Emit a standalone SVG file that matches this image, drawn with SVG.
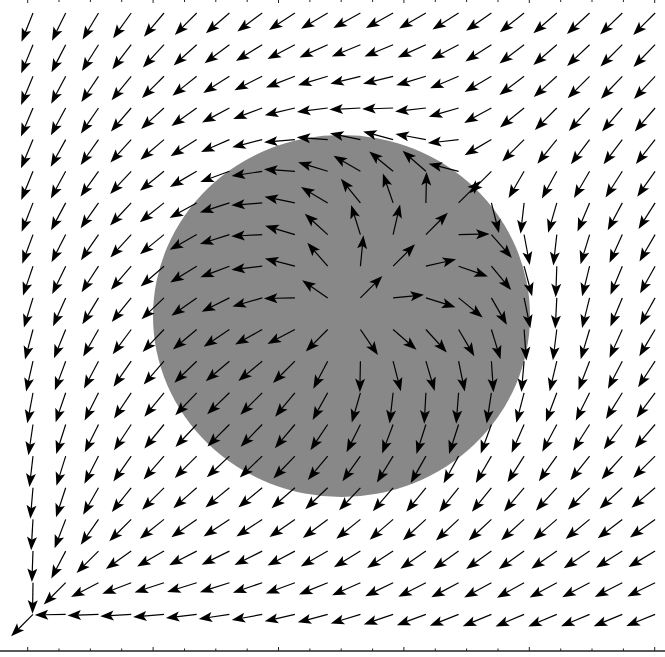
<svg xmlns="http://www.w3.org/2000/svg" width="665" height="657" viewBox="0 0 665 657">
<style>
.s{stroke:#000;stroke-width:1.2;fill:none}
.h{fill:#000}
.ax{stroke:#222;stroke-width:1.4;fill:none}
.tk{stroke:#222;stroke-width:1;fill:none}
</style>
<defs>
<g id="a"><line class="s" x1="0" y1="0" x2="21" y2="0"/><path class="h" d="M31 0L17.5-5L20.5 0L17.5 5Z"/></g>
</defs>
<rect width="665" height="657" fill="#fff"/>
<g id="disk"><ellipse cx="341.5" cy="316" rx="188.5" ry="181" fill="#888"/></g>
<g id="axis">
<line class="ax" x1="0" y1="651" x2="665" y2="651"/>
<path class="tk" d="M27.7 647V651M59 648.5V651M90.4 648.5V651M121.7 648.5V651M153.1 647V651M184.5 648.5V651M215.8 648.5V651M247.2 648.5V651M278.5 647V651M309.9 648.5V651M341.2 648.5V651M372.6 648.5V651M403.9 647V651M435.3 648.5V651M466.6 648.5V651M498 648.5V651M529.3 647V651M560.7 648.5V651M592 648.5V651M623.4 648.5V651M654.7 647V651"/>
<path class="tk" d="M27.7 0V3M59 0V2M90.4 0V2M121.7 0V2M153.1 0V3M184.5 0V2M215.8 0V2M247.2 0V2M278.5 0V3M309.9 0V2M341.2 0V2M372.6 0V2M403.9 0V3M435.3 0V2M466.6 0V2M498 0V2M529.3 0V3M560.7 0V2M592 0V2M623.4 0V2M654.7 0V3"/>
</g>
<g id="field">
<g transform="translate(0 13)">
<use href="#a" transform="translate(33) rotate(111.8)"/><use href="#a" transform="translate(65.7) rotate(116.3)"/><use href="#a" transform="translate(98.5) rotate(120.9)"/><use href="#a" transform="translate(131.2) rotate(125.7)"/><use href="#a" transform="translate(164) rotate(130.3)"/><use href="#a" transform="translate(196.7) rotate(134.9)"/><use href="#a" transform="translate(229.4) rotate(139.3)"/><use href="#a" transform="translate(262.2) rotate(143.3)"/><use href="#a" transform="translate(294.9) rotate(146.8)"/><use href="#a" transform="translate(327.7) rotate(149.4)"/><use href="#a" transform="translate(360.4) rotate(150.8)"/><use href="#a" transform="translate(393.1) rotate(151)"/><use href="#a" transform="translate(425.9) rotate(149.8)"/><use href="#a" transform="translate(458.6) rotate(147.6)"/><use href="#a" transform="translate(491.4) rotate(144.8)"/><use href="#a" transform="translate(524.1) rotate(141.7)"/><use href="#a" transform="translate(556.8) rotate(139.1)"/><use href="#a" transform="translate(589.6) rotate(137.1)"/><use href="#a" transform="translate(622.3) rotate(135.8)"/><use href="#a" transform="translate(655.1) rotate(135)"/>
</g>
<g transform="translate(0 44.7)">
<use href="#a" transform="translate(33) rotate(112.4)"/><use href="#a" transform="translate(65.7) rotate(117.3)"/><use href="#a" transform="translate(98.5) rotate(122.3)"/><use href="#a" transform="translate(131.2) rotate(127.5)"/><use href="#a" transform="translate(164) rotate(132.8)"/><use href="#a" transform="translate(196.7) rotate(138.1)"/><use href="#a" transform="translate(229.4) rotate(143.3)"/><use href="#a" transform="translate(262.2) rotate(148.1)"/><use href="#a" transform="translate(294.9) rotate(152.4)"/><use href="#a" transform="translate(327.7) rotate(155.6)"/><use href="#a" transform="translate(360.4) rotate(157.4)"/><use href="#a" transform="translate(393.1) rotate(157.5)"/><use href="#a" transform="translate(425.9) rotate(155.6)"/><use href="#a" transform="translate(458.6) rotate(151.9)"/><use href="#a" transform="translate(491.4) rotate(147.3)"/><use href="#a" transform="translate(524.1) rotate(142.7)"/><use href="#a" transform="translate(556.8) rotate(139.2)"/><use href="#a" transform="translate(589.6) rotate(136.5)"/><use href="#a" transform="translate(622.3) rotate(135)"/><use href="#a" transform="translate(655.1) rotate(134.2)"/>
</g>
<g transform="translate(0 76.3)">
<use href="#a" transform="translate(33) rotate(112.7)"/><use href="#a" transform="translate(65.7) rotate(118)"/><use href="#a" transform="translate(98.5) rotate(123.6)"/><use href="#a" transform="translate(131.2) rotate(129.3)"/><use href="#a" transform="translate(164) rotate(135.3)"/><use href="#a" transform="translate(196.7) rotate(141.4)"/><use href="#a" transform="translate(229.4) rotate(147.5)"/><use href="#a" transform="translate(262.2) rotate(153.5)"/><use href="#a" transform="translate(294.9) rotate(158.9)"/><use href="#a" transform="translate(327.7) rotate(163.3)"/><use href="#a" transform="translate(360.4) rotate(166)"/><use href="#a" transform="translate(393.1) rotate(166.1)"/><use href="#a" transform="translate(425.9) rotate(163)"/><use href="#a" transform="translate(458.6) rotate(157.1)"/><use href="#a" transform="translate(491.4) rotate(149.7)"/><use href="#a" transform="translate(524.1) rotate(142.9)"/><use href="#a" transform="translate(556.8) rotate(138)"/><use href="#a" transform="translate(589.6) rotate(135)"/><use href="#a" transform="translate(622.3) rotate(133.5)"/><use href="#a" transform="translate(655.1) rotate(132.9)"/>
</g>
<g transform="translate(0 108)">
<use href="#a" transform="translate(33) rotate(112.9)"/><use href="#a" transform="translate(65.7) rotate(118.6)"/><use href="#a" transform="translate(98.5) rotate(124.6)"/><use href="#a" transform="translate(131.2) rotate(130.9)"/><use href="#a" transform="translate(164) rotate(137.6)"/><use href="#a" transform="translate(196.7) rotate(144.6)"/><use href="#a" transform="translate(229.4) rotate(152)"/><use href="#a" transform="translate(262.2) rotate(159.4)"/><use href="#a" transform="translate(294.9) rotate(166.6)"/><use href="#a" transform="translate(327.7) rotate(172.8)"/><use href="#a" transform="translate(360.4) rotate(177.1)"/><use href="#a" transform="translate(393.1) rotate(178)"/><use href="#a" transform="translate(425.9) rotate(173.6)"/><use href="#a" transform="translate(458.6) rotate(163.8)"/><use href="#a" transform="translate(491.4) rotate(151.3)"/><use href="#a" transform="translate(524.1) rotate(141.2)"/><use href="#a" transform="translate(556.8) rotate(135)"/><use href="#a" transform="translate(589.6) rotate(132)"/><use href="#a" transform="translate(622.3) rotate(130.8)"/><use href="#a" transform="translate(655.1) rotate(130.9)"/>
</g>
<g transform="translate(0 139.6)">
<use href="#a" transform="translate(33) rotate(112.8)"/><use href="#a" transform="translate(65.7) rotate(118.9)"/><use href="#a" transform="translate(98.5) rotate(125.3)"/><use href="#a" transform="translate(131.2) rotate(132.2)"/><use href="#a" transform="translate(164) rotate(139.6)"/><use href="#a" transform="translate(196.7) rotate(147.6)"/><use href="#a" transform="translate(229.4) rotate(156.2)"/><use href="#a" transform="translate(262.2) rotate(165.5)"/><use href="#a" transform="translate(294.9) rotate(175)"/><use href="#a" transform="translate(327.7) rotate(-175.8)"/><use href="#a" transform="translate(360.4) rotate(-168.4)"/><use href="#a" transform="translate(393.1) rotate(-165)"/><use href="#a" transform="translate(425.9) rotate(-169.5)"/><use href="#a" transform="translate(458.6) rotate(173.5)"/><use href="#a" transform="translate(491.4) rotate(149.9)"/><use href="#a" transform="translate(524.1) rotate(135)"/><use href="#a" transform="translate(556.8) rotate(128.8)"/><use href="#a" transform="translate(589.6) rotate(127.1)"/><use href="#a" transform="translate(622.3) rotate(127.3)"/><use href="#a" transform="translate(655.1) rotate(128.3)"/>
</g>
<g transform="translate(0 171.3)">
<use href="#a" transform="translate(33) rotate(112.3)"/><use href="#a" transform="translate(65.7) rotate(118.7)"/><use href="#a" transform="translate(98.5) rotate(125.5)"/><use href="#a" transform="translate(131.2) rotate(132.9)"/><use href="#a" transform="translate(164) rotate(140.9)"/><use href="#a" transform="translate(196.7) rotate(149.8)"/><use href="#a" transform="translate(229.4) rotate(159.9)"/><use href="#a" transform="translate(262.2) rotate(171.2)"/><use href="#a" transform="translate(294.9) rotate(-176.2)"/><use href="#a" transform="translate(327.7) rotate(-162.9)"/><use href="#a" transform="translate(360.4) rotate(-150.1)"/><use href="#a" transform="translate(393.1) rotate(-140.4)"/><use href="#a" transform="translate(425.9) rotate(-138.7)"/><use href="#a" transform="translate(458.6) rotate(-165.8)"/><use href="#a" transform="translate(491.4) rotate(135)"/><use href="#a" transform="translate(524.1) rotate(120.1)"/><use href="#a" transform="translate(556.8) rotate(118.7)"/><use href="#a" transform="translate(589.6) rotate(120.3)"/><use href="#a" transform="translate(622.3) rotate(122.7)"/><use href="#a" transform="translate(655.1) rotate(125.2)"/>
</g>
<g transform="translate(0 202.9)">
<use href="#a" transform="translate(33) rotate(111.5)"/><use href="#a" transform="translate(65.7) rotate(118.2)"/><use href="#a" transform="translate(98.5) rotate(125.3)"/><use href="#a" transform="translate(131.2) rotate(133)"/><use href="#a" transform="translate(164) rotate(141.4)"/><use href="#a" transform="translate(196.7) rotate(151)"/><use href="#a" transform="translate(229.4) rotate(162.1)"/><use href="#a" transform="translate(262.2) rotate(175.5)"/><use href="#a" transform="translate(294.9) rotate(-168.4)"/><use href="#a" transform="translate(327.7) rotate(-149.4)"/><use href="#a" transform="translate(360.4) rotate(-129.1)"/><use href="#a" transform="translate(393.1) rotate(-109.2)"/><use href="#a" transform="translate(425.9) rotate(-88.8)"/><use href="#a" transform="translate(458.6) rotate(-45)"/><use href="#a" transform="translate(491.4) rotate(75.8)"/><use href="#a" transform="translate(524.1) rotate(96.5)"/><use href="#a" transform="translate(556.8) rotate(106.2)"/><use href="#a" transform="translate(589.6) rotate(112.9)"/><use href="#a" transform="translate(622.3) rotate(118.1)"/><use href="#a" transform="translate(655.1) rotate(122.4)"/>
</g>
<g transform="translate(0 234.6)">
<use href="#a" transform="translate(33) rotate(110.3)"/><use href="#a" transform="translate(65.7) rotate(117.2)"/><use href="#a" transform="translate(98.5) rotate(124.5)"/><use href="#a" transform="translate(131.2) rotate(132.3)"/><use href="#a" transform="translate(164) rotate(140.8)"/><use href="#a" transform="translate(196.7) rotate(150.6)"/><use href="#a" transform="translate(229.4) rotate(162.2)"/><use href="#a" transform="translate(262.2) rotate(176.9)"/><use href="#a" transform="translate(294.9) rotate(-163.5)"/><use href="#a" transform="translate(327.7) rotate(-137.6)"/><use href="#a" transform="translate(360.4) rotate(-107.4)"/><use href="#a" transform="translate(393.1) rotate(-77)"/><use href="#a" transform="translate(425.9) rotate(-45)"/><use href="#a" transform="translate(458.6) rotate(-1.2)"/><use href="#a" transform="translate(491.4) rotate(48.7)"/><use href="#a" transform="translate(524.1) rotate(79.5)"/><use href="#a" transform="translate(556.8) rotate(96.4)"/><use href="#a" transform="translate(589.6) rotate(107)"/><use href="#a" transform="translate(622.3) rotate(114.4)"/><use href="#a" transform="translate(655.1) rotate(120.2)"/>
</g>
<g transform="translate(0 266.2)">
<use href="#a" transform="translate(33) rotate(108.8)"/><use href="#a" transform="translate(65.7) rotate(115.8)"/><use href="#a" transform="translate(98.5) rotate(123.1)"/><use href="#a" transform="translate(131.2) rotate(130.8)"/><use href="#a" transform="translate(164) rotate(139.1)"/><use href="#a" transform="translate(196.7) rotate(148.4)"/><use href="#a" transform="translate(229.4) rotate(159.3)"/><use href="#a" transform="translate(262.2) rotate(173.5)"/><use href="#a" transform="translate(294.9) rotate(-165.5)"/><use href="#a" transform="translate(327.7) rotate(-131)"/><use href="#a" transform="translate(360.4) rotate(-84.4)"/><use href="#a" transform="translate(393.1) rotate(-45)"/><use href="#a" transform="translate(425.9) rotate(-13)"/><use href="#a" transform="translate(458.6) rotate(19.2)"/><use href="#a" transform="translate(491.4) rotate(50.4)"/><use href="#a" transform="translate(524.1) rotate(75)"/><use href="#a" transform="translate(556.8) rotate(92)"/><use href="#a" transform="translate(589.6) rotate(103.9)"/><use href="#a" transform="translate(622.3) rotate(112.5)"/><use href="#a" transform="translate(655.1) rotate(119)"/>
</g>
<g transform="translate(0 297.9)">
<use href="#a" transform="translate(33) rotate(107)"/><use href="#a" transform="translate(65.7) rotate(114.1)"/><use href="#a" transform="translate(98.5) rotate(121.4)"/><use href="#a" transform="translate(131.2) rotate(128.9)"/><use href="#a" transform="translate(164) rotate(136.5)"/><use href="#a" transform="translate(196.7) rotate(144.6)"/><use href="#a" transform="translate(229.4) rotate(153.4)"/><use href="#a" transform="translate(262.2) rotate(163.9)"/><use href="#a" transform="translate(294.9) rotate(179)"/><use href="#a" transform="translate(327.7) rotate(-145.5)"/><use href="#a" transform="translate(360.4) rotate(-45)"/><use href="#a" transform="translate(393.1) rotate(-5.6)"/><use href="#a" transform="translate(425.9) rotate(17.4)"/><use href="#a" transform="translate(458.6) rotate(39.1)"/><use href="#a" transform="translate(491.4) rotate(60.1)"/><use href="#a" transform="translate(524.1) rotate(78.4)"/><use href="#a" transform="translate(556.8) rotate(92.9)"/><use href="#a" transform="translate(589.6) rotate(104)"/><use href="#a" transform="translate(622.3) rotate(112.6)"/><use href="#a" transform="translate(655.1) rotate(119.2)"/>
</g>
<g transform="translate(0 329.5)">
<use href="#a" transform="translate(33) rotate(104.9)"/><use href="#a" transform="translate(65.7) rotate(112.2)"/><use href="#a" transform="translate(98.5) rotate(119.6)"/><use href="#a" transform="translate(131.2) rotate(126.7)"/><use href="#a" transform="translate(164) rotate(133.6)"/><use href="#a" transform="translate(196.7) rotate(140.1)"/><use href="#a" transform="translate(229.4) rotate(146.1)"/><use href="#a" transform="translate(262.2) rotate(150.9)"/><use href="#a" transform="translate(294.9) rotate(152.3)"/><use href="#a" transform="translate(327.7) rotate(135)"/><use href="#a" transform="translate(360.4) rotate(55.5)"/><use href="#a" transform="translate(393.1) rotate(41)"/><use href="#a" transform="translate(425.9) rotate(47.6)"/><use href="#a" transform="translate(458.6) rotate(59.4)"/><use href="#a" transform="translate(491.4) rotate(72.9)"/><use href="#a" transform="translate(524.1) rotate(85.8)"/><use href="#a" transform="translate(556.8) rotate(97.2)"/><use href="#a" transform="translate(589.6) rotate(106.7)"/><use href="#a" transform="translate(622.3) rotate(114.4)"/><use href="#a" transform="translate(655.1) rotate(120.6)"/>
</g>
<g transform="translate(0 361.2)">
<use href="#a" transform="translate(33) rotate(102.8)"/><use href="#a" transform="translate(65.7) rotate(110.4)"/><use href="#a" transform="translate(98.5) rotate(117.9)"/><use href="#a" transform="translate(131.2) rotate(124.8)"/><use href="#a" transform="translate(164) rotate(131)"/><use href="#a" transform="translate(196.7) rotate(136.1)"/><use href="#a" transform="translate(229.4) rotate(139.7)"/><use href="#a" transform="translate(262.2) rotate(140.3)"/><use href="#a" transform="translate(294.9) rotate(135)"/><use href="#a" transform="translate(327.7) rotate(117.7)"/><use href="#a" transform="translate(360.4) rotate(91)"/><use href="#a" transform="translate(393.1) rotate(75.5)"/><use href="#a" transform="translate(425.9) rotate(73.5)"/><use href="#a" transform="translate(458.6) rotate(78.4)"/><use href="#a" transform="translate(491.4) rotate(86.2)"/><use href="#a" transform="translate(524.1) rotate(95)"/><use href="#a" transform="translate(556.8) rotate(103.4)"/><use href="#a" transform="translate(589.6) rotate(111.1)"/><use href="#a" transform="translate(622.3) rotate(117.6)"/><use href="#a" transform="translate(655.1) rotate(123.2)"/>
</g>
<g transform="translate(0 392.8)">
<use href="#a" transform="translate(33) rotate(100.6)"/><use href="#a" transform="translate(65.7) rotate(108.9)"/><use href="#a" transform="translate(98.5) rotate(116.6)"/><use href="#a" transform="translate(131.2) rotate(123.6)"/><use href="#a" transform="translate(164) rotate(129.4)"/><use href="#a" transform="translate(196.7) rotate(133.7)"/><use href="#a" transform="translate(229.4) rotate(135.9)"/><use href="#a" transform="translate(262.2) rotate(135)"/><use href="#a" transform="translate(294.9) rotate(129.7)"/><use href="#a" transform="translate(327.7) rotate(119.1)"/><use href="#a" transform="translate(360.4) rotate(106.1)"/><use href="#a" transform="translate(393.1) rotate(96.5)"/><use href="#a" transform="translate(425.9) rotate(93.1)"/><use href="#a" transform="translate(458.6) rotate(94.5)"/><use href="#a" transform="translate(491.4) rotate(98.8)"/><use href="#a" transform="translate(524.1) rotate(104.5)"/><use href="#a" transform="translate(556.8) rotate(110.6)"/><use href="#a" transform="translate(589.6) rotate(116.5)"/><use href="#a" transform="translate(622.3) rotate(121.9)"/><use href="#a" transform="translate(655.1) rotate(126.7)"/>
</g>
<g transform="translate(0 424.5)">
<use href="#a" transform="translate(33) rotate(98.5)"/><use href="#a" transform="translate(65.7) rotate(107.8)"/><use href="#a" transform="translate(98.5) rotate(116.3)"/><use href="#a" transform="translate(131.2) rotate(123.6)"/><use href="#a" transform="translate(164) rotate(129.3)"/><use href="#a" transform="translate(196.7) rotate(133.3)"/><use href="#a" transform="translate(229.4) rotate(135)"/><use href="#a" transform="translate(262.2) rotate(134.1)"/><use href="#a" transform="translate(294.9) rotate(130.3)"/><use href="#a" transform="translate(327.7) rotate(123.9)"/><use href="#a" transform="translate(360.4) rotate(116.6)"/><use href="#a" transform="translate(393.1) rotate(110.7)"/><use href="#a" transform="translate(425.9) rotate(107.8)"/><use href="#a" transform="translate(458.6) rotate(107.9)"/><use href="#a" transform="translate(491.4) rotate(110.1)"/><use href="#a" transform="translate(524.1) rotate(113.8)"/><use href="#a" transform="translate(556.8) rotate(118)"/><use href="#a" transform="translate(589.6) rotate(122.5)"/><use href="#a" transform="translate(622.3) rotate(126.7)"/><use href="#a" transform="translate(655.1) rotate(130.7)"/>
</g>
<g transform="translate(0 456.1)">
<use href="#a" transform="translate(33) rotate(96.6)"/><use href="#a" transform="translate(65.7) rotate(107.4)"/><use href="#a" transform="translate(98.5) rotate(117.1)"/><use href="#a" transform="translate(131.2) rotate(125.1)"/><use href="#a" transform="translate(164) rotate(131.1)"/><use href="#a" transform="translate(196.7) rotate(135)"/><use href="#a" transform="translate(229.4) rotate(136.7)"/><use href="#a" transform="translate(262.2) rotate(136.3)"/><use href="#a" transform="translate(294.9) rotate(133.9)"/><use href="#a" transform="translate(327.7) rotate(129.9)"/><use href="#a" transform="translate(360.4) rotate(125.4)"/><use href="#a" transform="translate(393.1) rotate(121.6)"/><use href="#a" transform="translate(425.9) rotate(119.4)"/><use href="#a" transform="translate(458.6) rotate(119)"/><use href="#a" transform="translate(491.4) rotate(120.2)"/><use href="#a" transform="translate(524.1) rotate(122.4)"/><use href="#a" transform="translate(556.8) rotate(125.4)"/><use href="#a" transform="translate(589.6) rotate(128.6)"/><use href="#a" transform="translate(622.3) rotate(131.9)"/><use href="#a" transform="translate(655.1) rotate(135.1)"/>
</g>
<g transform="translate(0 487.8)">
<use href="#a" transform="translate(33) rotate(94.9)"/><use href="#a" transform="translate(65.7) rotate(108.2)"/><use href="#a" transform="translate(98.5) rotate(119.8)"/><use href="#a" transform="translate(131.2) rotate(128.7)"/><use href="#a" transform="translate(164) rotate(135)"/><use href="#a" transform="translate(196.7) rotate(138.9)"/><use href="#a" transform="translate(229.4) rotate(140.7)"/><use href="#a" transform="translate(262.2) rotate(140.6)"/><use href="#a" transform="translate(294.9) rotate(139)"/><use href="#a" transform="translate(327.7) rotate(136.4)"/><use href="#a" transform="translate(360.4) rotate(133.5)"/><use href="#a" transform="translate(393.1) rotate(130.9)"/><use href="#a" transform="translate(425.9) rotate(129.2)"/><use href="#a" transform="translate(458.6) rotate(128.6)"/><use href="#a" transform="translate(491.4) rotate(129.1)"/><use href="#a" transform="translate(524.1) rotate(130.4)"/><use href="#a" transform="translate(556.8) rotate(132.4)"/><use href="#a" transform="translate(589.6) rotate(134.7)"/><use href="#a" transform="translate(622.3) rotate(137.2)"/><use href="#a" transform="translate(655.1) rotate(139.7)"/>
</g>
<g transform="translate(0 519.4)">
<use href="#a" transform="translate(33) rotate(93.4)"/><use href="#a" transform="translate(65.7) rotate(111)"/><use href="#a" transform="translate(98.5) rotate(125.1)"/><use href="#a" transform="translate(131.2) rotate(135)"/><use href="#a" transform="translate(164) rotate(141.3)"/><use href="#a" transform="translate(196.7) rotate(144.9)"/><use href="#a" transform="translate(229.4) rotate(146.4)"/><use href="#a" transform="translate(262.2) rotate(146.4)"/><use href="#a" transform="translate(294.9) rotate(145.2)"/><use href="#a" transform="translate(327.7) rotate(143.3)"/><use href="#a" transform="translate(360.4) rotate(141.1)"/><use href="#a" transform="translate(393.1) rotate(139.2)"/><use href="#a" transform="translate(425.9) rotate(137.7)"/><use href="#a" transform="translate(458.6) rotate(137)"/><use href="#a" transform="translate(491.4) rotate(137.1)"/><use href="#a" transform="translate(524.1) rotate(137.8)"/><use href="#a" transform="translate(556.8) rotate(139.1)"/><use href="#a" transform="translate(589.6) rotate(140.7)"/><use href="#a" transform="translate(622.3) rotate(142.5)"/><use href="#a" transform="translate(655.1) rotate(144.3)"/>
</g>
<g transform="translate(0 551.1)">
<use href="#a" transform="translate(33) rotate(92.1)"/><use href="#a" transform="translate(65.7) rotate(117.7)"/><use href="#a" transform="translate(98.5) rotate(135)"/><use href="#a" transform="translate(131.2) rotate(144.9)"/><use href="#a" transform="translate(164) rotate(150.2)"/><use href="#a" transform="translate(196.7) rotate(152.9)"/><use href="#a" transform="translate(229.4) rotate(153.7)"/><use href="#a" transform="translate(262.2) rotate(153.4)"/><use href="#a" transform="translate(294.9) rotate(152.1)"/><use href="#a" transform="translate(327.7) rotate(150.4)"/><use href="#a" transform="translate(360.4) rotate(148.6)"/><use href="#a" transform="translate(393.1) rotate(146.9)"/><use href="#a" transform="translate(425.9) rotate(145.5)"/><use href="#a" transform="translate(458.6) rotate(144.7)"/><use href="#a" transform="translate(491.4) rotate(144.5)"/><use href="#a" transform="translate(524.1) rotate(144.7)"/><use href="#a" transform="translate(556.8) rotate(145.4)"/><use href="#a" transform="translate(589.6) rotate(146.4)"/><use href="#a" transform="translate(622.3) rotate(147.7)"/><use href="#a" transform="translate(655.1) rotate(149.1)"/>
</g>
<g transform="translate(0 582.7)">
<use href="#a" transform="translate(33) rotate(90.9)"/><use href="#a" transform="translate(65.7) rotate(135)"/><use href="#a" transform="translate(98.5) rotate(152.3)"/><use href="#a" transform="translate(131.2) rotate(159)"/><use href="#a" transform="translate(164) rotate(161.8)"/><use href="#a" transform="translate(196.7) rotate(162.6)"/><use href="#a" transform="translate(229.4) rotate(162.2)"/><use href="#a" transform="translate(262.2) rotate(161.1)"/><use href="#a" transform="translate(294.9) rotate(159.6)"/><use href="#a" transform="translate(327.7) rotate(157.8)"/><use href="#a" transform="translate(360.4) rotate(155.9)"/><use href="#a" transform="translate(393.1) rotate(154.2)"/><use href="#a" transform="translate(425.9) rotate(152.8)"/><use href="#a" transform="translate(458.6) rotate(151.8)"/><use href="#a" transform="translate(491.4) rotate(151.3)"/><use href="#a" transform="translate(524.1) rotate(151.1)"/><use href="#a" transform="translate(556.8) rotate(151.4)"/><use href="#a" transform="translate(589.6) rotate(152)"/><use href="#a" transform="translate(622.3) rotate(152.7)"/><use href="#a" transform="translate(655.1) rotate(153.7)"/>
</g>
<g transform="translate(0 614.4)">
<use href="#a" transform="translate(33) rotate(135)"/><use href="#a" transform="translate(65.7) rotate(179.1)"/><use href="#a" transform="translate(98.5) rotate(177.9)"/><use href="#a" transform="translate(131.2) rotate(176.6)"/><use href="#a" transform="translate(164) rotate(175.1)"/><use href="#a" transform="translate(196.7) rotate(173.4)"/><use href="#a" transform="translate(229.4) rotate(171.5)"/><use href="#a" transform="translate(262.2) rotate(169.4)"/><use href="#a" transform="translate(294.9) rotate(167.2)"/><use href="#a" transform="translate(327.7) rotate(165.1)"/><use href="#a" transform="translate(360.4) rotate(163)"/><use href="#a" transform="translate(393.1) rotate(161.2)"/><use href="#a" transform="translate(425.9) rotate(159.7)"/><use href="#a" transform="translate(458.6) rotate(158.5)"/><use href="#a" transform="translate(491.4) rotate(157.7)"/><use href="#a" transform="translate(524.1) rotate(157.2)"/><use href="#a" transform="translate(556.8) rotate(157.1)"/><use href="#a" transform="translate(589.6) rotate(157.3)"/><use href="#a" transform="translate(622.3) rotate(157.6)"/><use href="#a" transform="translate(655.1) rotate(158.2)"/>
</g>
</g>
</svg>
